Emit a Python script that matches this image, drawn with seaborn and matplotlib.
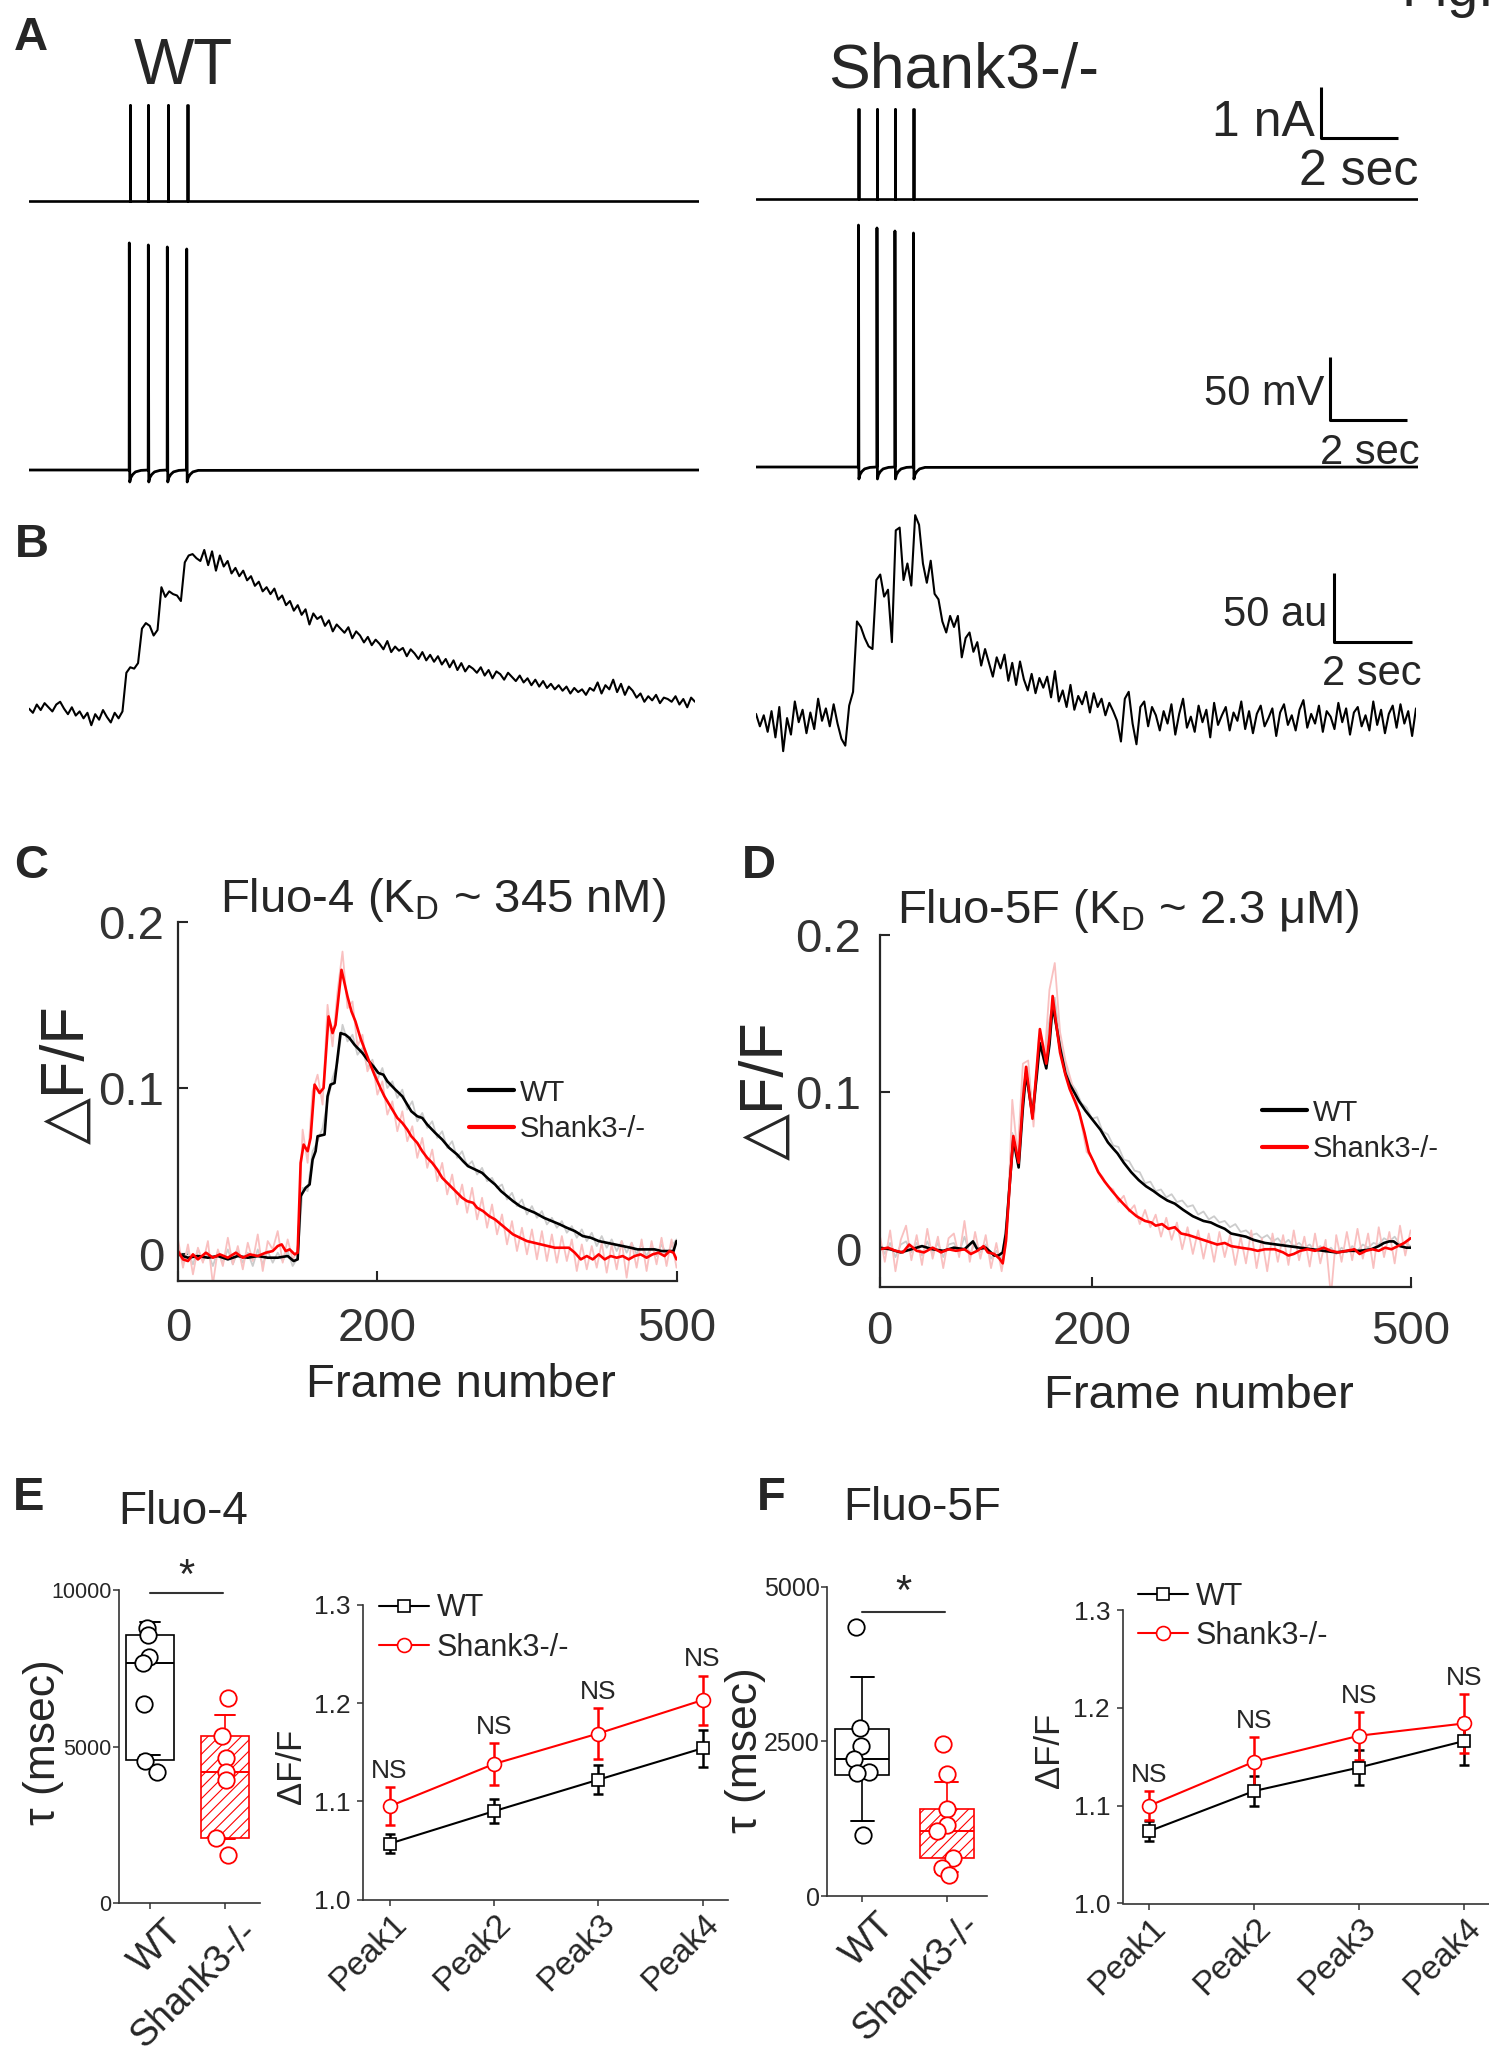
import numpy as np
import matplotlib
matplotlib.use("Agg")
import matplotlib.pyplot as plt
import matplotlib.transforms as mtransforms
import seaborn as sns

# ---------------------------------------------------------------- data
# A: current-clamp stimulation (s, nA) and evoked action potentials (s, mV)
a_pulse_t_wt = [2.618, 3.091, 3.605, 4.114]
a_pulse_t_ko = [2.662, 3.143, 3.610, 4.091]
a_pulse_amp_wt = 1.87
a_pulse_amp_ko = 1.76
a_spike_t_wt = [2.605, 3.099, 3.592, 4.096]
a_spike_t_ko = [2.662, 3.143, 3.610, 4.091]
a_spike_peak_wt = [110.2, 108.6, 107.0, 105.4]
a_spike_peak_ko = [122.0, 119.7, 117.3, 115.7]
a_rest_mv = -70.0
a_ahp_dt = [0.012, 0.04, 0.09, 0.16, 0.30]
a_ahp_dv = [-9.5, -6.0, -3.5, -1.5, -0.3]
a_sweep_wt = 17.4
a_sweep_ko = 17.2

# B: single-cell calcium transients (au), sampled every 0.1 s
b_dt = 0.1
b_wt = [1, -2, 4, 0, 5, 2, -1, 4, 6, 1,
        -3, 2, -4, -1, -6, -2, -11, -3, -7, 0,
        -5, -9, -2, -6, -1,
        27, 31, 30, 34,
        59, 63, 61, 54, 58,
        89, 82, 86, 84, 83, 79,
        107, 112, 113, 110, 108, 116, 105, 115, 101,
        112, 104, 108, 99, 103, 97, 101,
        94, 97, 90, 93, 86, 89, 84, 88, 80, 83,
        76, 79, 72, 76, 69, 73, 62, 70, 66, 68,
        61, 65, 57, 62, 59, 56, 60, 52, 57, 54,
        49, 53, 47, 51, 48, 44, 50, 42, 46, 43,
        45, 39, 44, 41, 37, 42, 36, 40, 35, 39,
        33, 37, 31, 36, 29, 34, 28, 32, 30, 27,
        31, 25, 29, 23, 28, 26, 22, 27, 24, 21,
        25, 20, 23, 18, 22, 17, 21, 16, 19, 15,
        18, 14, 17, 12, 16, 13, 15, 11, 16, 14,
        20, 12, 18, 15, 22, 13, 19, 11, 17, 14,
        9, 12, 6, 10, 7, 11, 5, 9, 8, 6,
        10, 4, 8, 2, 9, 6]
b_ko = [3, -6, 2, -10, 5, -14, 8, -24, 0, -12, 12, -3, 6, -11, 4, -8, 14, -2, 7, -6,
        10, -4, -15, -20, 9, 19,
        70, 66, 58, 52, 50, 100, 104, 88, 93, 55,
        136, 138, 100, 112, 96, 147, 140, 112, 98, 114,
        90, 86, 70, 62, 74, 66, 74, 44, 58, 62,
        48, 55, 38, 50, 40, 30, 44, 36, 46, 27,
        40, 24, 41, 28, 20, 32, 18, 29, 22, 30,
        15, 34, 12, 20, 8, 24, 6, 16, 10, 19,
        4, 18, 8, 14, 2, 11, 5, -2, -17, 14,
        19, -4, -19, 8, 12,
        -6, 8, 2, -9, 5, -4, 10, -12, 3, 14,
        -7, 1, -10, 9, -3, 6, -14, 11, -5, 2,
        8, -9, 4, -2, 12, -8, 5, -11, 3, 9,
        -6, 0, 7, -13, 4, 10, -5, 2, -9, 6,
        13, -7, 3, -4, 9, -10, 5, 1, -8, 11,
        -3, 7, -12, 4, 8, -6, 2, -9, 12, -5,
        6, -11, 3, 9, -7, 10, -4, 5, -13, 7]

# C: Fluo-4 average dF/F (x 1e-3) vs frame
c_wt_frames = [0, 10, 20, 30, 40, 50, 60, 70, 80, 90, 100, 110, 116, 120, 123, 128, 132, 135, 138, 140,
               147, 150, 153, 157, 160, 163, 168, 172, 177, 185, 190, 196, 201, 206, 210, 218, 225, 230, 234, 240,
               245, 250, 258, 265, 272, 280, 286, 291, 298, 305, 312, 318, 324, 330, 336, 343, 350, 358, 367, 375,
               383, 390, 398, 406, 414, 422, 430, 438, 446, 454, 461, 470, 478, 485, 492, 497, 500]
c_wt_dff = [0, -2, -1, -2, -1, -3, -1, -2, -1, -2, -2, -1, -4, -3, 35, 40, 42, 57, 62, 71,
            72, 95, 102, 103, 118, 133, 132, 130, 126, 121, 117, 113, 109, 108, 104, 99, 95, 90, 86, 83,
            82, 78, 73, 69, 64, 60, 56, 53, 51, 49, 45, 42, 38, 35, 32, 29, 27, 25, 22, 20,
            18, 16, 14, 11, 10, 8, 7, 6, 5, 4, 3, 3, 3, 2, 2, 2, 8]
c_ko_frames = [0, 5, 10, 15, 20, 28, 35, 42, 50, 58, 65, 72, 80, 88, 95, 100, 104, 108, 112, 117,
               120, 123, 126, 130, 133, 137, 142, 146, 151, 155, 158, 164, 170, 174, 178, 183, 188, 193, 197, 203,
               207, 212, 216, 220, 225, 230, 234, 240, 245, 250, 255, 260, 265, 270, 275, 280, 285, 290, 296, 300,
               306, 312, 318, 324, 330, 336, 343, 350, 357, 364, 371, 378, 385, 392, 398, 404, 410, 416, 422, 428,
               434, 440, 446, 452, 458, 464, 470, 476, 482, 488, 493, 497, 500]
c_ko_dff = [2, -3, -4, 0, -3, 1, -2, 0, -2, 1, -2, 0, -1, 1, 2, 5, 6, 2, 3, 0,
            1, 55, 66, 62, 70, 102, 97, 100, 143, 133, 138, 171, 155, 146, 140, 130, 122, 114, 108, 100,
            95, 90, 86, 82, 79, 75, 71, 67, 62, 58, 55, 51, 46, 43, 40, 37, 34, 32, 31, 28,
            26, 23, 21, 18, 15, 12, 10, 8, 7, 6, 5, 4, 4, 4, 1, -3, -1, -3, 0, -3,
            -1, -2, -1, -3, -1, 0, -2, 0, 1, -1, 2, 1, -3]
# individual-trial traces, every 5 frames (x 1e-3)
c_wt_trial = [4, -5, 2, -6, 3, -4, 1, -7, 2, -5, 3, -6, 2, -5, 1, -7, 3, -6, 2, -5, 1, -4, 2, -7,
              -2, 40, 38, 62, 68, 76, 92, 106, 115, 138, 128, 132, 120, 124, 112, 117, 105, 112, 100, 104,
              94, 99, 87, 92, 80, 85, 76, 80, 70, 74, 64, 68, 58, 62, 53, 56, 48, 52, 44, 46,
              40, 42, 33, 37, 29, 33, 24, 29, 22, 26, 18, 22, 16, 20, 13, 17, 10, 15, 8, 13,
              5, 11, 4, 9, 2, 8, 1, 7, 0, 6, -1, 5, -1, 6, 0, 5, 9]
c_ko_trial = [9, -8, 6, -12, 4, -5, 8, -18, 3, -7, 10, -6, 5, -9, 7, -4, 12, -10, 8, 3, 14, -5, 9, -3,
              2, 75, 55, 98, 108, 90, 150, 125, 158, 182, 148, 152, 125, 132, 110, 116, 96, 104, 84, 92,
              74, 86, 68, 77, 58, 70, 52, 63, 44, 55, 36, 48, 30, 42, 25, 40, 21, 34, 16, 30,
              12, 24, 6, 20, 2, 16, 0, 15, -3, 14, -4, 12, -5, 11, -4, 9, -10, 6, -9, 5,
              -8, 7, -11, 6, -9, 8, -14, 7, -8, 9, -10, 8, -6, 10, -7, 9, -8]

# D: Fluo-5F average dF/F (x 1e-3) vs frame
d_wt_frames = [0, 10, 20, 30, 40, 50, 60, 70, 80, 88, 92, 100, 108, 112, 116, 119, 123, 126, 131, 135,
               138, 144, 148, 151, 157, 160, 163, 167, 170, 175, 179, 184, 188, 194, 201, 208, 215, 220, 224, 230,
               237, 244, 251, 258, 264, 271, 278, 286, 295, 305, 312, 318, 325, 331, 338, 345, 352, 363, 374, 385,
               396, 407, 418, 430, 441, 452, 463, 470, 475, 480, 484, 490, 496, 500]
d_wt_dff = [1, 0, -2, 0, 2, 0, -1, 1, 0, 5, 0, 1, -4, -4, -2, 10, 45, 70, 52, 90,
            112, 85, 110, 131, 115, 130, 155, 140, 128, 112, 105, 99, 94, 88, 82, 76, 68, 64, 61, 55,
            49, 44, 40, 37, 34, 31, 29, 25, 21, 18, 17, 15, 13, 10, 9, 8, 6, 4, 3, 2,
            1, 0, -1, -2, -1, -1, 0, 2, 4, 5, 5, 2, 1, 1]
d_ko_frames = [0, 8, 15, 22, 28, 35, 42, 50, 58, 65, 72, 80, 86, 92, 98, 102, 108, 113, 116, 119,
               123, 126, 131, 135, 138, 144, 148, 151, 157, 160, 163, 167, 170, 175, 179, 184, 188, 193, 197, 202,
               206, 212, 219, 224, 228, 235, 242, 250, 256, 260, 266, 272, 278, 284, 291, 300, 309, 318, 325, 331,
               340, 350, 356, 363, 372, 380, 385, 390, 396, 403, 410, 418, 425, 432, 440, 447, 452, 458, 464, 470,
               476, 482, 488, 494, 500]
d_ko_dff = [0, 1, -1, -2, 3, -1, -2, 1, -2, 0, -1, 0, -3, -1, 2, -2, -3, -6, -9, 5,
            45, 72, 55, 95, 116, 83, 115, 140, 118, 135, 161, 140, 125, 111, 102, 94, 87, 74, 62, 55,
            49, 43, 37, 33, 30, 25, 21, 18, 17, 15, 16, 13, 14, 10, 9, 7, 5, 3, 4, 2,
            1, 0, -1, 0, 0, -2, -4, -3, -1, 0, -1, 1, -1, -2, -1, 0, -3, -1, 0, -1,
            1, 0, 2, 4, 7]
d_wt_trial = [5, -3, 4, -5, 3, 5, -2, 4, -4, 5, -3, 4, -5, 3, 4, -2, 8, -3, 4, -2, 3, -6, -1, -7,
              20, 74, 55, 104, 116, 82, 132, 120, 146, 160, 132, 117, 106, 101, 93, 90, 83, 84, 75, 73,
              66, 65, 57, 56, 50, 49, 42, 43, 37, 38, 33, 35, 30, 31, 27, 28, 22, 24, 19, 21,
              17, 18, 14, 16, 11, 12, 9, 10, 7, 9, 5, 7, 3, 6, 2, 4, 1, 3, -1, 2,
              -2, 1, -3, 1, -2, 2, -1, 3, 1, 4, 3, 7, 5, 8, 3, 4, 2]
d_ko_trial = [10, -8, 12, -14, 6, 15, -7, 9, -10, 13, -6, 8, -12, 7, 10, -5, 18, -8, 11, -6, 9, -12, 4, -14,
              8, 95, 60, 118, 120, 78, 135, 118, 165, 182, 138, 120, 108, 96, 80, 62, 58, 50, 46, 40,
              38, 30, 34, 24, 28, 16, 25, 14, 22, 8, 20, 6, 17, 0, 14, -3, 12, -6, 10, -8,
              11, -5, 9, -10, 8, -9, 12, -12, 7, -14, 10, -8, 9, -10, 12, -7, 8, -11, 10, -9,
              6, -30, 9, -8, 11, -7, 13, -6, 10, -12, 14, -5, 11, -9, 15, -4, 12]
trial_step = 5

# E/F: decay time constants (ms) and box summaries [q1, median, q3, lower cap, upper cap]
groups = ["WT", "Shank3-/-"]
fluo4_tau_wt = [8797, 8564, 7852, 7679, 6362, 4543, 4202]
fluo4_tau_ko = [6543, 5340, 4628, 4200, 3935, 2094, 1542]
fluo4_box_wt = [4564, 7660, 8564, 4743, 8969]
fluo4_box_ko = [2094, 4181, 5350, 2057, 6010]
fluo5f_tau_wt = [4352, 2710, 2429, 2209, 2009, 1983, 981]
fluo5f_tau_ko = [2456, 1966, 1401, 1147, 1055, 619, 447, 339]
fluo5f_box_wt = [1955, 2209, 2699, 1212, 3544]
fluo5f_box_ko = [609, 1050, 1401, 383, 1837]

# E/F: peak amplitudes (mean, sem)
peaks = ["Peak1", "Peak2", "Peak3", "Peak4"]
fluo4_peak_wt = [1.057, 1.090, 1.122, 1.154]
fluo4_peak_wt_sem = [0.010, 0.012, 0.015, 0.019]
fluo4_peak_ko = [1.095, 1.138, 1.169, 1.203]
fluo4_peak_ko_sem = [0.0195, 0.021, 0.026, 0.025]
fluo5f_peak_wt = [1.074, 1.115, 1.139, 1.166]
fluo5f_peak_wt_sem = [0.010, 0.0155, 0.018, 0.024]
fluo5f_peak_ko = [1.100, 1.145, 1.1715, 1.184]
fluo5f_peak_ko_sem = [0.0146, 0.0247, 0.0245, 0.030]

# ---------------------------------------------------------------- style
sns.set_style("ticks")
plt.rcParams["font.family"] = ["Liberation Sans", "DejaVu Sans"]
plt.rcParams["mathtext.fontset"] = "custom"
plt.rcParams["mathtext.rm"] = "Liberation Sans"
plt.rcParams["mathtext.it"] = "Liberation Sans:italic"
plt.rcParams["mathtext.bf"] = "Liberation Sans:bold"
plt.rcParams["hatch.linewidth"] = 0.8

RED = "#ff0000"
PINK = "#f9c0c0"
GREY = "#cccccc"
W, H = 1489, 2055
fig = plt.figure(figsize=(W / 100, H / 100), dpi=100)


def px_axes(x0, y0, x1, y1):
    return fig.add_axes([x0 / W, 1 - y1 / H, (x1 - x0) / W, (y1 - y0) / H])


def ftext(x, y, s, **kw):
    return fig.text(x / W, 1 - y / H, s, **kw)


def trace(ax, x, y, **kw):
    sns.lineplot(x=np.asarray(x, float), y=np.asarray(y, float), ax=ax,
                 estimator=None, sort=False, **kw)


def pulse_train(times, amp, width, t_end):
    t, y = [0.0], [0.0]
    for tp in times:
        t += [tp, tp, tp + width, tp + width]
        y += [0.0, amp, amp, 0.0]
    t.append(t_end)
    y.append(0.0)
    return t, y


def spike_train(times, peaks_mv, rest, ahp_dt, ahp_dv, t_end):
    t, v = [0.0], [rest]
    for ts, vp in zip(times, peaks_mv):
        t += [ts - 0.004, ts]
        v += [rest, vp]
        t += [ts + d for d in ahp_dt]
        v += [rest + d for d in ahp_dv]
    t.append(t_end)
    v.append(rest)
    return t, v


def scale_bar(ax, x0, y0, dx, dy):
    ax.plot([x0, x0, x0 + dx], [y0 + dy, y0, y0], color="k", lw=2.2,
            clip_on=False, solid_capstyle="butt")


# ---------------------------------------------------------------- panel A
cur_ylim = (-0.382, 2.755)
vol_ylim = (-93.8, 128.4)

ax = px_axes(29, 60, 699, 220)
trace(ax, *pulse_train(a_pulse_t_wt, a_pulse_amp_wt, 0.006, a_sweep_wt), color="k", lw=1.9)
ax.set_xlim(0, a_sweep_wt); ax.set_ylim(*cur_ylim); ax.axis("off")

ax = px_axes(756, 58.5, 1418, 218.5)
trace(ax, *pulse_train(a_pulse_t_ko, a_pulse_amp_ko, 0.006, a_sweep_ko), color="k", lw=1.9)
scale_bar(ax, 14.68, 1.196, 2.0, 1.0)
ax.set_xlim(0, a_sweep_ko); ax.set_ylim(*cur_ylim); ax.axis("off")

ax = px_axes(29, 220, 699, 500)
trace(ax, *spike_train(a_spike_t_wt, a_spike_peak_wt, a_rest_mv, a_ahp_dt, a_ahp_dv, a_sweep_wt),
      color="k", lw=2.0)
ax.set_xlim(0, a_sweep_wt); ax.set_ylim(*vol_ylim); ax.axis("off")

ax = px_axes(756, 217, 1418, 497)
trace(ax, *spike_train(a_spike_t_ko, a_spike_peak_ko, a_rest_mv, a_ahp_dt, a_ahp_dv, a_sweep_ko),
      color="k", lw=2.0)
scale_bar(ax, 14.91, -32.7, 2.0, 50.0)
ax.set_xlim(0, a_sweep_ko); ax.set_ylim(*vol_ylim); ax.axis("off")

# ---------------------------------------------------------------- panel B
au_ylim = (-36.2, 158.0)
ax = px_axes(29, 492, 695, 760)
trace(ax, np.arange(len(b_wt)) * b_dt, b_wt, color="k", lw=1.5)
ax.set_xlim(0, (len(b_wt) - 1) * b_dt); ax.set_ylim(*au_ylim); ax.axis("off")

ax = px_axes(756, 500, 1416, 768)
trace(ax, np.arange(len(b_ko)) * b_dt, b_ko, color="k", lw=1.5)
scale_bar(ax, 14.9, 55.0, 2.0, 50.0)
ax.set_xlim(0, (len(b_ko) - 1) * b_dt); ax.set_ylim(*au_ylim); ax.axis("off")

# text of panels A/B
ftext(31, 50, "A", fontsize=34, fontweight="bold", ha="center", va="baseline")
ftext(32, 557, "B", fontsize=34, fontweight="bold", ha="center", va="baseline")
ftext(183, 84, "WT", fontsize=46, ha="center", va="baseline")
ftext(964, 87, "Shank3-/-", fontsize=45, ha="center", va="baseline")
ftext(1315, 136, "1 nA", fontsize=36, ha="right", va="baseline")
ftext(1418, 185, "2 sec", fontsize=36, ha="right", va="baseline")
ftext(1324, 405, "50 mV", fontsize=30, ha="right", va="baseline")
ftext(1420, 464, "2 sec", fontsize=30, ha="right", va="baseline")
ftext(1327, 626, "50 au", fontsize=30, ha="right", va="baseline")
ftext(1422, 685, "2 sec", fontsize=30, ha="right", va="baseline")
ftext(1402, 6, "Fig.", fontsize=40, ha="left", va="baseline")


# ---------------------------------------------------------------- panels C / D
def imaging_axes(ax, ylim, xpad, ypad):
    ax.set_xlim(0, 500)
    ax.set_ylim(*ylim)
    sns.despine(ax=ax)
    for s in ("left", "bottom"):
        ax.spines[s].set_color("#262626")
        ax.spines[s].set_linewidth(1.6)
    ax.set_xticks([0, 200, 500])
    ax.set_xticklabels(["0", "200", "500"])
    ax.set_yticks([0, 0.1, 0.2])
    ax.set_yticklabels(["0", "0.1", "0.2"])
    ax.tick_params(direction="in", length=7, width=1.5, color="#262626",
                   labelcolor="#333333", labelsize=34)
    ax.tick_params(axis="x", pad=xpad)
    ax.tick_params(axis="y", pad=ypad)
    ax.set_xlabel("")
    ax.set_ylabel("")


def imaging_panel(ax, wt_trial, ko_trial, wt_f, wt_v, ko_f, ko_v):
    trace(ax, np.arange(len(wt_trial)) * trial_step, np.asarray(wt_trial) / 1000, color=GREY, lw=1.3)
    trace(ax, np.arange(len(ko_trial)) * trial_step, np.asarray(ko_trial) / 1000, color=PINK, lw=1.3)
    trace(ax, wt_f, np.asarray(wt_v) / 1000, color="k", lw=1.9, label="WT")
    trace(ax, ko_f, np.asarray(ko_v) / 1000, color=RED, lw=1.9, label="Shank3-/-")


ax = px_axes(178, 921.6, 676.5, 1281)
imaging_panel(ax, c_wt_trial, c_ko_trial, c_wt_frames, c_wt_dff, c_ko_frames, c_ko_dff)
imaging_axes(ax, (-0.016, 0.2), 18.7, 10)
leg = ax.legend(loc="center left", bbox_to_anchor=(469 / W, 1 - 1111 / H), bbox_transform=fig.transFigure,
                frameon=False, fontsize=21, handlelength=1.54, handletextpad=0.2, labelspacing=0.3,
                borderpad=0, borderaxespad=0)
for ln in leg.get_lines():
    ln.set_linewidth(3)

ax = px_axes(879.5, 934.7, 1410.6, 1287)
imaging_panel(ax, d_wt_trial, d_ko_trial, d_wt_frames, d_wt_dff, d_ko_frames, d_ko_dff)
imaging_axes(ax, (-0.024, 0.2), 16.5, 13)
leg = ax.legend(loc="center left", bbox_to_anchor=(1262 / W, 1 - 1131 / H), bbox_transform=fig.transFigure,
                frameon=False, fontsize=21, handlelength=1.54, handletextpad=0.2, labelspacing=0.3,
                borderpad=0, borderaxespad=0)
for ln in leg.get_lines():
    ln.set_linewidth(3)

ftext(31, 878, "C", fontsize=34, fontweight="bold", ha="center", va="baseline")
ftext(759, 878, "D", fontsize=34, fontweight="bold", ha="center", va="baseline")
ftext(443, 912, "Fluo-4 (K$_{\\rm D}$ ~ 345 nM)", fontsize=34, ha="center", va="baseline")
ftext(1128, 923, "Fluo-5F (K$_{\\rm D}$ ~ 2.3 μM)", fontsize=34, ha="center", va="baseline")
ftext(461, 1397, "Frame number", fontsize=34, ha="center", va="baseline")
ftext(1199, 1408, "Frame number", fontsize=34, ha="center", va="baseline")
ftext(68, 1075, "△F/F", fontsize=44, rotation=90, ha="center", va="center")
ftext(767, 1091, "△F/F", fontsize=44, rotation=90, ha="center", va="center")


# ---------------------------------------------------------------- panels E / F
def shift_xticklabels(ax, dx_px):
    off = mtransforms.ScaledTranslation(dx_px / 100, 0, fig.dpi_scale_trans)
    for lab in ax.get_xticklabels():
        lab.set_transform(lab.get_transform() + off)


def stat_axes(ax, tick_size, ypad):
    sns.despine(ax=ax)
    for s in ("left", "bottom"):
        ax.spines[s].set_color("#333333")
        ax.spines[s].set_linewidth(1.2)
    ax.tick_params(direction="out", length=4, width=1.1, color="#333333")
    ax.tick_params(axis="y", labelsize=tick_size, pad=ypad)


def draw_box(ax, pos, stats, color, hatch=None):
    q1, med, q3, lo, hi = stats
    boxprops = dict(facecolor="white", edgecolor=color, linewidth=1.2)
    if hatch:
        boxprops["hatch"] = hatch
    ax.bxp([dict(q1=q1, med=med, q3=q3, whislo=lo, whishi=hi, fliers=[])],
           positions=[pos], widths=0.64, capwidths=0.27, patch_artist=True,
           showfliers=False, manage_ticks=False, boxprops=boxprops,
           medianprops=dict(color=color, linewidth=1.4),
           whiskerprops=dict(color=color, linewidth=1.2),
           capprops=dict(color=color, linewidth=1.4))


def tau_panel(ax, wt, ko, box_wt, box_ko, jit_wt, jit_ko, ymax, yticks, sig_y, star_y, tick_size):
    draw_box(ax, 0, box_wt, "k")
    draw_box(ax, 1, box_ko, RED, hatch="///")
    sns.scatterplot(x=np.zeros(len(wt)) + np.asarray(jit_wt), y=wt, ax=ax, s=140, color="white",
                    edgecolor="k", linewidth=1.3, zorder=4)
    sns.scatterplot(x=np.ones(len(ko)) + np.asarray(jit_ko), y=ko, ax=ax, s=140, color="white",
                    edgecolor=RED, linewidth=1.3, zorder=4)
    ax.plot([0, 0.98], [sig_y, sig_y], color="#333333", lw=1.5, clip_on=False)
    ax.text(0.49, star_y, "*", fontsize=30, ha="center", va="center", clip_on=False)
    ax.set_xlim(-0.41, 1.47)
    ax.set_ylim(0, ymax)
    ax.set_yticks(yticks)
    ax.set_yticklabels([str(v) for v in yticks])
    ax.set_xticks([0, 1])
    ax.set_xticklabels(groups, rotation=45, ha="right", va="top", rotation_mode="anchor", fontsize=27)
    ax.set_xlabel("")
    ax.set_ylabel("")
    stat_axes(ax, tick_size, 1.5)
    ax.tick_params(axis="x", pad=4)
    shift_xticklabels(ax, 14)


def peak_panel(ax, wt, wt_sem, ko, ko_sem, legend_xy):
    x = np.arange(len(peaks))
    ax.errorbar(x, wt, yerr=wt_sem, fmt="none", ecolor="k", elinewidth=1.8, capsize=3.5,
                capthick=1.8, zorder=2)
    ax.errorbar(x, ko, yerr=ko_sem, fmt="none", ecolor=RED, elinewidth=1.8, capsize=3.5,
                capthick=1.8, zorder=2)
    sns.lineplot(x=x, y=wt, ax=ax, color="k", lw=1.5, marker="s", markersize=8.5,
                 markerfacecolor="white", markeredgecolor="k", markeredgewidth=1.2,
                 label="WT", zorder=3)
    sns.lineplot(x=x, y=ko, ax=ax, color=RED, lw=1.5, marker="o", markersize=10,
                 markerfacecolor="white", markeredgecolor=RED, markeredgewidth=1.2,
                 label="Shank3-/-", zorder=3)
    for xi, m, e in zip(x, ko, ko_sem):
        ax.annotate("NS", (xi, m + e), xytext=(0, 3), textcoords="offset points",
                    ha="center", va="bottom", fontsize=19)
    ax.set_xlim(-0.255, 3.24)
    ax.set_ylim(1.0, 1.3)
    ax.set_yticks([1.0, 1.1, 1.2, 1.3])
    ax.set_yticklabels(["1.0", "1.1", "1.2", "1.3"])
    ax.set_xticks(x)
    ax.set_xticklabels(peaks, rotation=45, ha="right", va="top", rotation_mode="anchor", fontsize=24)
    ax.set_xlabel("")
    ax.set_ylabel("")
    stat_axes(ax, 19, 5)
    ax.tick_params(axis="x", pad=2)
    shift_xticklabels(ax, 1)
    ax.legend(loc="center left", bbox_to_anchor=(legend_xy[0] / W, 1 - legend_xy[1] / H),
              bbox_transform=fig.transFigure, frameon=False, fontsize=22, handlelength=1.65,
              handletextpad=0.25, labelspacing=0.3, borderpad=0, borderaxespad=0, numpoints=1)


# E
ax = px_axes(119.3, 1590, 260, 1903.3)
tau_panel(ax, fluo4_tau_wt, fluo4_tau_ko, fluo4_box_wt, fluo4_box_ko,
          [-0.04, -0.02, -0.01, -0.10, -0.08, -0.07, 0.09],
          [0.04, -0.04, 0.01, 0.01, 0.01, -0.12, 0.04],
          10000, [0, 5000, 10000], 9914, 10415, 15.5)
ax = px_axes(363, 1604.7, 727.6, 1899.7)
peak_panel(ax, fluo4_peak_wt, fluo4_peak_wt_sem, fluo4_peak_ko, fluo4_peak_ko_sem, (379, 1628))

# F
ax = px_axes(827.3, 1586.7, 986.7, 1896)
tau_panel(ax, fluo5f_tau_wt, fluo5f_tau_ko, fluo5f_box_wt, fluo5f_box_ko,
          [-0.07, -0.03, -0.01, -0.10, 0.08, -0.06, 0.01],
          [-0.04, 0.0, 0.0, 0.0, -0.12, 0.07, -0.06, 0.03],
          5000, [0, 2500, 5000], 4594, 4897, 18)
ax = px_axes(1122.6, 1610, 1489, 1903.5)
peak_panel(ax, fluo5f_peak_wt, fluo5f_peak_wt_sem, fluo5f_peak_ko, fluo5f_peak_ko_sem, (1137.5, 1616.5))

ftext(29, 1510, "E", fontsize=34, fontweight="bold", ha="center", va="baseline")
ftext(771, 1510, "F", fontsize=34, fontweight="bold", ha="center", va="baseline")
ftext(183, 1524, "Fluo-4", fontsize=33, ha="center", va="baseline")
ftext(922, 1520, "Fluo-5F", fontsize=33, ha="center", va="baseline")
ftext(44, 1742, "τ (msec)", fontsize=32, rotation=90, ha="center", va="center")
ftext(745, 1750, "τ (msec)", fontsize=32, rotation=90, ha="center", va="center")
ftext(292, 1766, "ΔF/F", fontsize=25, rotation=90, ha="center", va="center")
ftext(1050, 1750, "ΔF/F", fontsize=25, rotation=90, ha="center", va="center")

fig.savefig("out.png", dpi=100)
